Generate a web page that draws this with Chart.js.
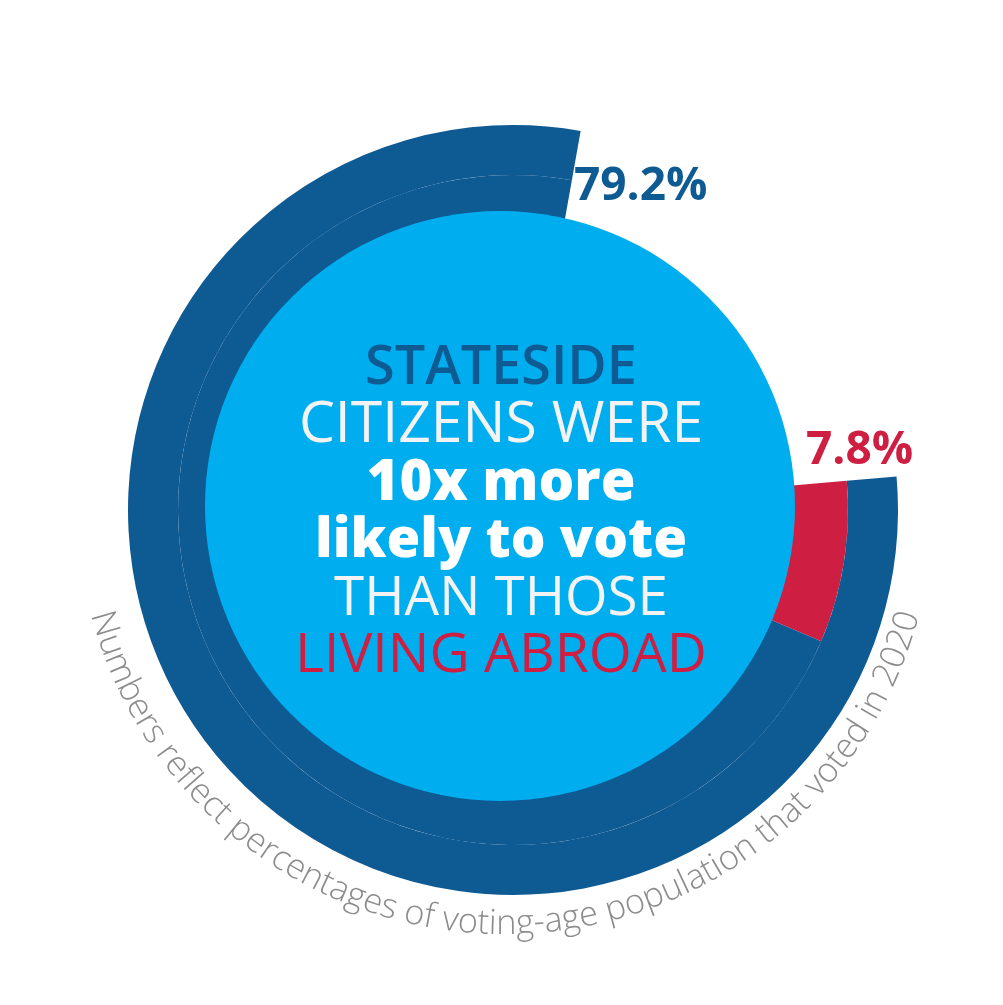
<!DOCTYPE html>
<html><head><meta charset="utf-8">
<script src="https://cdn.jsdelivr.net/npm/chart.js@4"></script>
<style>html,body{margin:0;padding:0;background:#fff}#c{display:block}</style>
</head><body>
<canvas id="c" width="1003" height="1005" style="width:1003px;height:1005px"></canvas>
<script>
const categories = ['Stateside citizens', 'Citizens living abroad'];
const stateside = 79.2;
const abroad = 7.8;
const valueLabels = ['79.2%', '7.8%'];
const footnote = 'Numbers reflect percentages of voting-age population that voted in 2020';
const centerLines = ['STATESIDE', 'CITIZENS WERE', '10x more', 'likely to vote', 'THAN THOSE', 'LIVING ABROAD'];

const DARK = '#0e5a93', LIGHT = '#00aeef', RED = '#ce1e42', GRAY = '#8c8c8c';

const overlay = {
  id: 'overlay',
  afterDatasetsDraw(chart) {
    const ctx = chart.ctx;
    ctx.save();
    // inner light circle
    ctx.fillStyle = LIGHT;
    ctx.beginPath(); ctx.arc(500, 506, 295, 0, Math.PI * 2); ctx.fill();
    ctx.textAlign = 'center'; ctx.textBaseline = 'alphabetic';
    const specs = [
      {t: centerLines[0], y: 384, w: 272, wt: 600, c: DARK},
      {t: centerLines[1], y: 442, w: 404, wt: 400, c: '#f3f3f3'},
      {t: centerLines[2], y: 500, w: 269, wt: 800, c: '#fff'},
      {t: centerLines[3], y: 557, w: 372, wt: 800, c: '#fff'},
      {t: centerLines[4], y: 615, w: 334, wt: 400, c: '#f3f3f3'},
      {t: centerLines[5], y: 672, w: 412, wt: 400, c: RED}
    ];
    for (const s of specs) {
      ctx.font = s.wt + ' 50px "Open Sans"';
      const m = ctx.measureText(s.t).width;
      const fs = 50 * s.w / m;
      ctx.font = s.wt + ' ' + fs.toFixed(1) + 'px "Open Sans"';
      ctx.fillStyle = s.c;
      ctx.fillText(s.t, 501, s.y);
    }
    // value labels
    ctx.textAlign = 'left';
    ctx.font = '700 46px "Open Sans"';
    ctx.fillStyle = DARK; ctx.fillText(valueLabels[0], 574, 200);
    ctx.fillStyle = RED; ctx.fillText(valueLabels[1], 806, 464);
    // curved footnote
    const cx = 505, cy = 506, r = 428;
    const arcLen = (167 - 13) * Math.PI / 180 * (r - 10);
    ctx.font = '300 30px "Open Sans"';
    let tw = ctx.measureText(footnote).width;
    const fs = 30 * arcLen / tw;
    ctx.font = '300 ' + fs.toFixed(1) + 'px "Open Sans"';
    tw = ctx.measureText(footnote).width;
    let phi = Math.PI / 2 + (tw / 2) / r;
    ctx.fillStyle = GRAY; ctx.textAlign = 'left';
    for (const ch of footnote) {
      const w = ctx.measureText(ch).width;
      const a = phi - (w / 2) / r;
      ctx.save();
      ctx.translate(cx + r * Math.cos(a), cy + r * Math.sin(a));
      ctx.rotate(a - Math.PI / 2);
      ctx.fillText(ch, -w / 2, 0);
      ctx.restore();
      phi -= w / r;
    }
    ctx.restore();
  }
};

new Chart(document.getElementById('c'), {
  type: 'doughnut',
  data: {
    labels: [categories[1], categories[0], 'rest'],
    datasets: [
      { data: [stateside, 100 - stateside], backgroundColor: [DARK, 'rgba(0,0,0,0)'], borderWidth: 0, weight: 50 },
      { data: [abroad, stateside - abroad, 100 - stateside], backgroundColor: [RED, DARK, 'rgba(0,0,0,0)'], borderWidth: 0, weight: 135 }
    ]
  },
  options: {
    responsive: false, animation: false,
    rotation: 85, cutout: 200,
    layout: { padding: { left: 128, right: 105, top: 125, bottom: 110 } },
    plugins: { legend: { display: false }, tooltip: { enabled: false } }
  },
  plugins: [overlay]
});
</script>
</body></html>
